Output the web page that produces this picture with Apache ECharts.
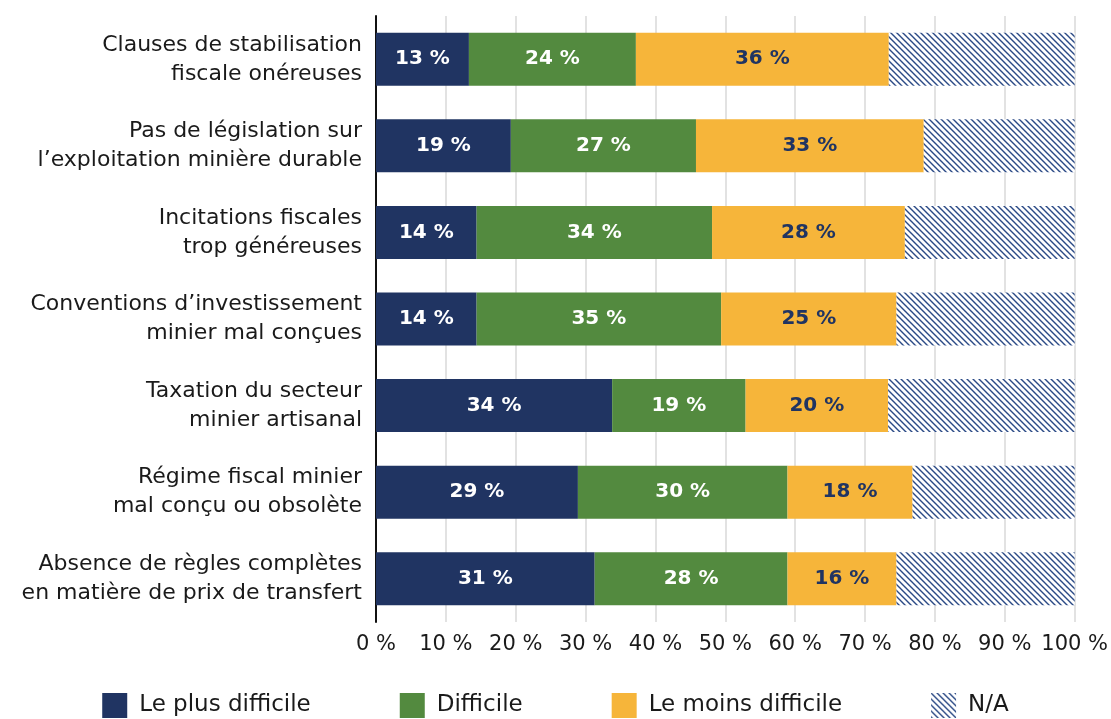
<!DOCTYPE html>
<html>
<head>
<meta charset="utf-8">
<script src="https://cdn.jsdelivr.net/npm/echarts@6/dist/echarts.min.js"></script>
<style>
  html, body { margin: 0; padding: 0; background: #fff; }
  #chart { width: 1111px; height: 719px; }
</style>
</head>
<body>
<div id="chart"></div>
<script>
const CATEGORIES = [
    'Clauses de stabilisation\nfiscale onéreuses',
    'Pas de législation sur\nl\u2019exploitation minière durable',
    'Incitations fiscales\ntrop généreuses',
    'Conventions d\u2019investissement\nminier mal conçues',
    'Taxation du secteur\nminier artisanal',
    'Régime fiscal minier\nmal conçu ou obsolète',
    'Absence de règles complètes\nen matière de prix de transfert'
];

const SERIES_NAMES = ['Le plus difficile', 'Difficile', 'Le moins difficile', 'N/A'];

const MOST_DIFFICULT = [13.3, 19.3, 14.4, 14.4, 33.8, 28.9, 31.3];
const DIFFICULT = [23.9, 26.5, 33.7, 35.0, 19.1, 30.0, 27.6];
const LEAST_DIFFICULT = [36.2, 32.6, 27.6, 25.1, 20.4, 17.9, 15.6];
const NOT_APPLICABLE = [26.6, 21.6, 24.3, 25.5, 26.7, 23.2, 25.5];

const X_TICKS = [0, 10, 20, 30, 40, 50, 60, 70, 80, 90, 100];

const FONT = '"DejaVu Sans", sans-serif';

// motif hachuré pour N/A
function makeHatch() {
    const c = document.createElement('canvas');
    const s = 6;
    c.width = s;
    c.height = s;
    const ctx = c.getContext('2d');
    ctx.fillStyle = '#ffffff';
    ctx.fillRect(0, 0, s, s);
    ctx.strokeStyle = '#2b4a86';
    ctx.lineWidth = 1.4;
    ctx.beginPath();
    ctx.moveTo(-1, -1);
    ctx.lineTo(s + 1, s + 1);
    ctx.moveTo(-1, s - 1);
    ctx.lineTo(1, s + 1);
    ctx.moveTo(s - 1, -1);
    ctx.lineTo(s + 1, 1);
    ctx.stroke();
    return c;
}

const hatch = { image: makeHatch(), repeat: 'repeat' };

const chart = echarts.init(document.getElementById('chart'));

function barSeries(name, data, color, labelColor) {
    return {
        name: name,
        type: 'bar',
        stack: 'total',
        barWidth: 53,
        data: data,
        itemStyle: { color: color },
        label: {
            show: labelColor !== null,
            position: 'inside',
            color: labelColor || '#fff',
            fontFamily: FONT,
            fontWeight: 'bold',
            fontSize: 20,
            formatter: p => Math.round(p.value) + ' %'
        },
        emphasis: { disabled: true }
    };
}

const option = {
    animation: false,
    grid: {
        left: 376,
        right: 36,
        top: 16,
        bottom: 97
    },
    xAxis: {
        type: 'value',
        min: 0,
        max: 100,
        interval: 10,
        axisLine: { show: false },
        axisTick: { show: false },
        splitLine: { lineStyle: { color: '#d9d9d9', width: 1.5 } },
        axisLabel: {
            color: '#1a1a1a',
            fontFamily: FONT,
            fontSize: 21,
            margin: 12,
            formatter: v => X_TICKS.includes(v) ? v + ' %' : ''
        }
    },
    yAxis: {
        type: 'category',
        inverse: true,
        data: CATEGORIES,
        axisLine: { lineStyle: { color: '#111', width: 2 } },
        axisTick: { show: false },
        axisLabel: {
            color: '#1a1a1a',
            fontFamily: FONT,
            fontSize: 22,
            lineHeight: 29,
            margin: 14,
            align: 'right'
        }
    },
    legend: {
        bottom: 1,
        left: 'center',
        padding: 0,
        itemWidth: 25,
        itemHeight: 25,
        itemGap: 89,
        icon: 'rect',
        textStyle: {
            color: '#1a1a1a',
            fontFamily: FONT,
            fontSize: 23,
            padding: [0, 0, 0, 7]
        },
        data: SERIES_NAMES
    },
    series: [
        barSeries(SERIES_NAMES[0], MOST_DIFFICULT, '#203462', '#ffffff'),
        barSeries(SERIES_NAMES[1], DIFFICULT, '#538a3f', '#ffffff'),
        barSeries(SERIES_NAMES[2], LEAST_DIFFICULT, '#f6b53a', '#203462'),
        barSeries(SERIES_NAMES[3], NOT_APPLICABLE, hatch, null)
    ]
};

chart.setOption(option);
</script>
</body>
</html>
